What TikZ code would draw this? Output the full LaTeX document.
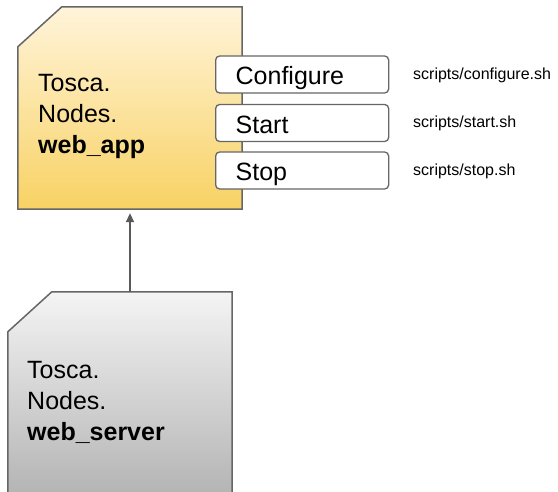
\documentclass[tikz,border=0pt]{standalone}
\usepackage{fontspec}
\setmainfont{Liberation Sans}
\usetikzlibrary{arrows.meta}
\definecolor{edgegray}{HTML}{666666}
\definecolor{arrowgray}{HTML}{595959}
\definecolor{apptop}{HTML}{FFF4DA}
\definecolor{appbot}{HTML}{F8D264}
\definecolor{srvtop}{HTML}{F4F4F4}
\definecolor{srvbot}{HTML}{B4B4B4}
\tikzset{
  typebox/.style={inner sep=0pt, minimum width=224pt},
  typelabel/.style={inner sep=0pt, anchor=base west, align=left, font=\fontsize{25}{31}\selectfont},
  opbox/.style={draw=edgegray, line width=1.3pt, fill=white, rounded corners=4pt,
    minimum width=173pt, minimum height=37pt, inner xsep=20pt, inner ysep=0pt,
    text width=133pt, text height=24pt, text depth=3pt, align=left, anchor=west,
    font=\fontsize{25}{30}\selectfont},
  scriptlabel/.style={inner sep=0pt, anchor=west, font=\fontsize{16}{18}\selectfont},
  outline/.style={draw=edgegray, line width=1.5pt},
  inherit/.style={draw=arrowgray, line width=1.8pt, -{Triangle[length=9pt,width=8pt]}}
}
\begin{document}
\begin{tikzpicture}[x=1pt,y=-1pt]
\useasboundingbox (0,0) rectangle (558,492);
% top type
\node[typebox, minimum height=202pt] (app) at (130,108) {};
\shade[top color=apptop, bottom color=appbot]
  ([yshift=-40pt]app.north west) -- ([xshift=44pt]app.north west) -- (app.north east) -- (app.south east) -- (app.south west) -- cycle;
\draw[outline]
  ([yshift=-40pt]app.north west) -- ([xshift=44pt]app.north west) -- (app.north east) -- (app.south east) -- (app.south west) -- cycle;
\node[typelabel] (applabel) at (38,154) {Tosca.\\Nodes.\\\textbf{web\_app}};
% operations
\node[opbox] (configure) at (215,74.5) {Configure};
\node[opbox] (start) at (215,123) {Start};
\node[opbox] (stop) at (215,170.5) {Stop};
\node[scriptlabel] (configuresh) at (413,75) {scripts/configure.sh};
\node[scriptlabel] (startsh) at (413,123) {scripts/start.sh};
\node[scriptlabel] (stopsh) at (413,171) {scripts/stop.sh};
% bottom type
\node[typebox, minimum height=202pt] (server) at (120,393) {};
\shade[top color=srvtop, bottom color=srvbot]
  ([yshift=-40pt]server.north west) -- ([xshift=44pt]server.north west) -- (server.north east) -- (server.south east) -- (server.south west) -- cycle;
\draw[outline]
  (server.south west) -- ([yshift=-40pt]server.north west) -- ([xshift=44pt]server.north west) -- (server.north east) -- (server.south east);
\node[typelabel] (serverlabel) at (27,440) {Tosca.\\Nodes.\\\textbf{web\_server}};
% derivation arrow
\draw[inherit] (app.south |- server.north) -- ([yshift=-4pt]app.south);
\end{tikzpicture}
\end{document}
